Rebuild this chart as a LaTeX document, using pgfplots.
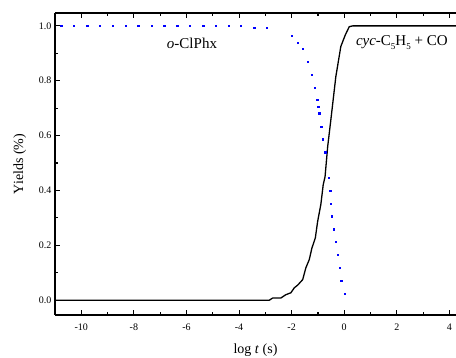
\documentclass[border=0pt]{standalone}
\usepackage{pgfplots}
\pgfplotsset{compat=1.18}
\usepackage{fontspec}
\setmainfont{Liberation Serif}
\newcommand{\sub}[1]{\raisebox{-4pt}{\fontsize{9}{9}\selectfont #1}}
\begin{document}
\begin{tikzpicture}
\begin{axis}[name=ax,
  scale only axis, width=401pt, height=302pt,
  xmin=-11, xmax=4.25, ymin=-0.054, ymax=1.047,
  axis x line*=box, axis y line*=left,
  axis line style={line width=1.2pt},
  xtick={-10,-8,...,4}, ytick={0,0.2,...,1.0},
  minor x tick num=1, minor y tick num=1,
  tick align=inside, major tick length=5pt, minor tick length=3pt,
  tick style={line width=1.1pt, black},
  every tick label/.append style={font=\fontsize{10}{12}\selectfont},
  /pgf/number format/assume math mode=true,
  yticklabel style={/pgf/number format/fixed,/pgf/number format/fixed zerofill,/pgf/number format/precision=1, xshift=0pt},
  xticklabel style={yshift=-5pt},
  xlabel={log \textit{t} (s)}, ylabel={Yields (\%)},
  label style={font=\fontsize{14}{16}\selectfont},
  xlabel style={yshift=-7pt},
  ylabel style={yshift=6pt},
  clip=false,
]
\addplot[black, line width=1.3pt] coordinates {
(-11,0) (-2.85,0) (-2.72,0.008) (-2.41,0.008) (-2.22,0.02) (-2.03,0.027) (-1.9,0.045) (-1.77,0.055) (-1.58,0.075) (-1.46,0.118) (-1.33,0.148) (-1.23,0.19) (-1.1,0.227) (-1.01,0.288) (-0.89,0.349) (-0.80,0.421) (-0.73,0.45) (-0.63,0.56) (-0.51,0.657) (-0.32,0.815) (-0.13,0.925) (0.04,0.967) (0.19,0.997) (0.32,1.0) (4.25,1.0)
};
\addplot[only marks, mark=square*, mark size=0.7pt, blue, mark options={draw=blue, fill=blue}] coordinates {
(-10.77,1) (-10.28,1) (-9.77,1) (-9.29,1) (-8.81,1) (-8.30,1) (-7.83,1) (-7.32,1) (-6.84,1) (-6.35,1) (-5.87,1) (-5.37,1) (-4.88,1) (-4.40,1) (-3.93,1) (-3.42,0.994) (-2.94,0.994)
(-2.0,0.965) (-1.77,0.939) (-1.58,0.916) (-1.38,0.87) (-1.23,0.821) (-1.13,0.775) (-1.03,0.73) (-0.99,0.706) (-0.95,0.682) (-0.87,0.633) (-0.82,0.587) (-0.73,0.54) (-0.60,0.447) (-0.53,0.40) (-0.52,0.352) (-0.47,0.306) (-0.40,0.259) (-0.33,0.213) (-0.25,0.165) (-0.17,0.118) (-0.11,0.071) (0.01,0.024)
};
\node[font=\fontsize{15}{17}\selectfont] at (axis cs:-5.79,0.938) {\textit{o}-ClPhx};
\node[font=\fontsize{15}{17}\selectfont, anchor=west, inner sep=0pt] at (axis cs:0.44,0.938) {\textit{cyc}-C\sub{5}H\sub{5} + CO};
\end{axis}
\pgfresetboundingbox
\path (ax.south west) ++(-55pt,-43pt) coordinate (bl);
\path (ax.north east) ++(0pt,13pt) coordinate (tr);
\useasboundingbox (bl) rectangle (tr);
\end{tikzpicture}
\end{document}
